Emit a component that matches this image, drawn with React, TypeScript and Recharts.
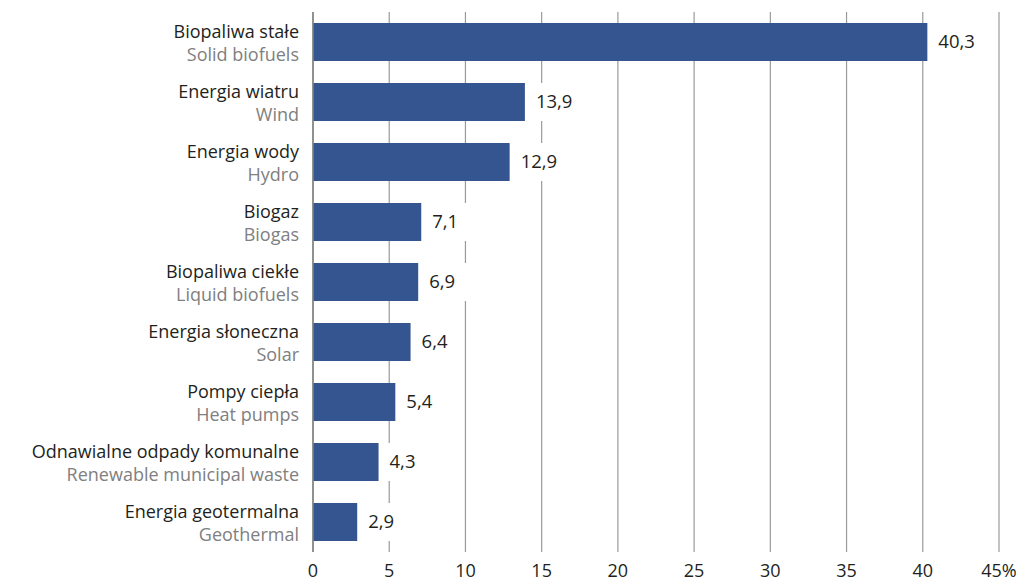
import { BarChart, Bar, XAxis, YAxis, CartesianGrid, LabelList } from 'recharts';

const polishNames = [
  'Biopaliwa stałe',
  'Energia wiatru',
  'Energia wody',
  'Biogaz',
  'Biopaliwa ciekłe',
  'Energia słoneczna',
  'Pompy ciepła',
  'Odnawialne odpady komunalne',
  'Energia geotermalna',
];

const englishNames = [
  'Solid biofuels',
  'Wind',
  'Hydro',
  'Biogas',
  'Liquid biofuels',
  'Solar',
  'Heat pumps',
  'Renewable municipal waste',
  'Geothermal',
];

const shares = [40.3, 13.9, 12.9, 7.1, 6.9, 6.4, 5.4, 4.3, 2.9];

const xTicks = [0, 5, 10, 15, 20, 25, 30, 35, 40, 45];

const data = polishNames.map((pl, i) => ({ pl, en: englishNames[i], value: shares[i] }));

const FONT = '"Open Sans", "Noto Sans", sans-serif';

const CategoryTick = (props: any) => {
  const { x, y, payload } = props;
  const row = data[payload.index] ?? data.find((d) => d.pl === payload.value);
  return (
    <g>
      <text x={x - 6} y={y - 4} textAnchor="end" fontSize={18} fill="#231f20" fontFamily={FONT}>
        {row?.pl}
      </text>
      <text x={x - 6} y={y + 19} textAnchor="end" fontSize={18} fill="#808080" fontFamily={FONT}>
        {row?.en}
      </text>
    </g>
  );
};

const ValueLabel = (props: any) => {
  const { x, y, width, height, value } = props;
  const text = String(value).replace('.', ',');
  const left = x + width;
  const textW = text.length * 10.5;
  return (
    <g>
      <rect x={left + 3} y={y} width={textW + 14} height={height} fill="#ffffff" />
      <text x={left + 11} y={y + height / 2 + 6} fontSize={18.5} fill="#231f20" fontFamily={FONT}>
        {text}
      </text>
    </g>
  );
};

const App = () => {
  return (
    <div style={{ position: 'absolute', left: 0, top: 0, background: '#fff' }}>
      <BarChart
        width={1031}
        height={585}
        data={data}
        layout="vertical"
        margin={{ top: 12, right: 32, bottom: 0, left: 0 }}
        barCategoryGap={11}
      >
        <CartesianGrid horizontal={false} stroke="#9a9a9a" strokeWidth={1.2} />
        <XAxis
          type="number"
          domain={[0, 45]}
          ticks={xTicks}
          axisLine={false}
          tickLine={false}
          height={33}
          interval={0}
          tickFormatter={(v: number) => (v === 45 ? '45%' : String(v))}
          tick={{ fill: '#231f20', fontSize: 18, fontFamily: FONT, dy: 4 }}
        />
        <YAxis
          type="category"
          dataKey="pl"
          width={313}
          axisLine={{ stroke: '#808080', strokeWidth: 1.5 }}
          tickLine={false}
          tick={<CategoryTick />}
          interval={0}
        />
        <Bar dataKey="value" fill="#34558f" barSize={38} isAnimationActive={false}>
          <LabelList dataKey="value" content={<ValueLabel />} />
        </Bar>
      </BarChart>
    </div>
  );
};

export default App;
